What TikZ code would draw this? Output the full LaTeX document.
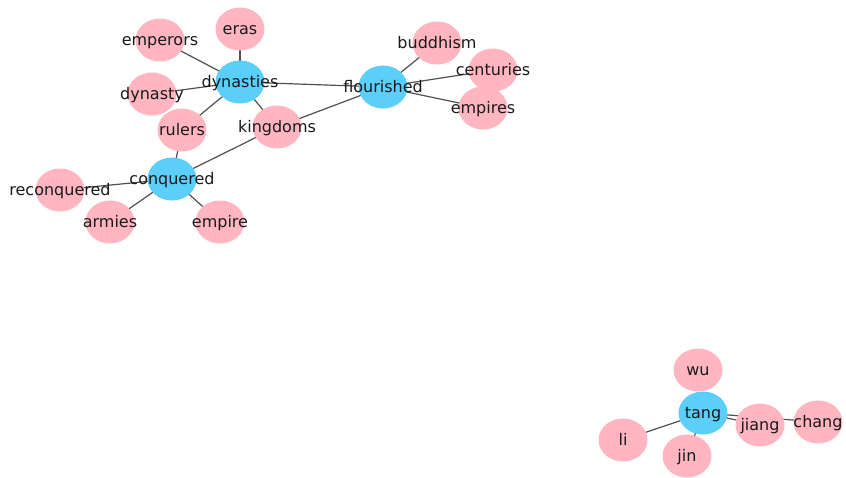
\documentclass[tikz,border=0pt]{standalone}
\usepackage{fontspec}
\setmainfont{DejaVu Sans}
\usetikzlibrary{shapes.geometric}
\pgfdeclarelayer{background}
\pgfsetlayers{background,main}
\definecolor{hub}{HTML}{5BCEFA}
\definecolor{leaf}{HTML}{FFB6C1}
\definecolor{edgec}{HTML}{505050}
\tikzset{
  blob/.style={ellipse,minimum width=49pt,minimum height=43pt,inner sep=0pt,draw=none},
  hubnode/.style={blob,fill=hub},
  leafnode/.style={blob,fill=leaf},
  lbl/.style={font=\fontsize{16}{18}\selectfont,text=black!90,inner sep=0pt,
    text height=11.7pt,text depth=3.8pt,yshift=-1.5pt},
  link/.style={draw=edgec,line width=1.2pt}
}
\begin{document}
\begin{tikzpicture}[x=1pt,y=-1pt]
\useasboundingbox (0,0) rectangle (846,477);
% nodes
\node[leafnode] (eras) at (240,29) {};
\node[leafnode] (emperors) at (160,40) {};
\node[hubnode] (dynasties) at (240,82) {};
\node[leafnode] (dynasty) at (152,94) {};
\node[leafnode] (rulers) at (182,130) {};
\node[leafnode] (kingdoms) at (277,127) {};
\node[hubnode] (conquered) at (172,179) {};
\node[leafnode] (reconquered) at (60,190) {};
\node[leafnode] (armies) at (110,222) {};
\node[leafnode] (empire) at (220,222) {};
\node[hubnode] (flourished) at (383,87) {};
\node[leafnode] (buddhism) at (437,43) {};
\node[leafnode] (centuries) at (493,70) {};
\node[leafnode] (empires) at (483,108) {};
\node[leafnode] (wu) at (698,370) {};
\node[hubnode] (tang) at (703,413) {};
\node[leafnode] (jiang) at (760,425) {};
\node[leafnode] (chang) at (818,422) {};
\node[leafnode] (li) at (623,440) {};
\node[leafnode] (jin) at (687,456) {};
% edges
\begin{pgfonlayer}{background}
\foreach \a/\b in {dynasties/eras,dynasties/emperors,dynasties/dynasty,dynasties/rulers,
  dynasties/kingdoms,dynasties/flourished,conquered/rulers,conquered/kingdoms,
  conquered/reconquered,conquered/armies,conquered/empire,flourished/kingdoms,
  flourished/buddhism,flourished/centuries,flourished/empires,
  tang/jiang,tang/chang,tang/li,tang/jin}
  \draw[link] (\a.center) -- (\b.center);
\end{pgfonlayer}
% labels
\foreach \n in {eras,emperors,dynasties,dynasty,rulers,kingdoms,conquered,reconquered,
  armies,empire,flourished,buddhism,centuries,empires,wu,tang,jiang,chang,li,jin}
  \node[lbl] (t-\n) at (\n.center) {\n};
\end{tikzpicture}
\end{document}
